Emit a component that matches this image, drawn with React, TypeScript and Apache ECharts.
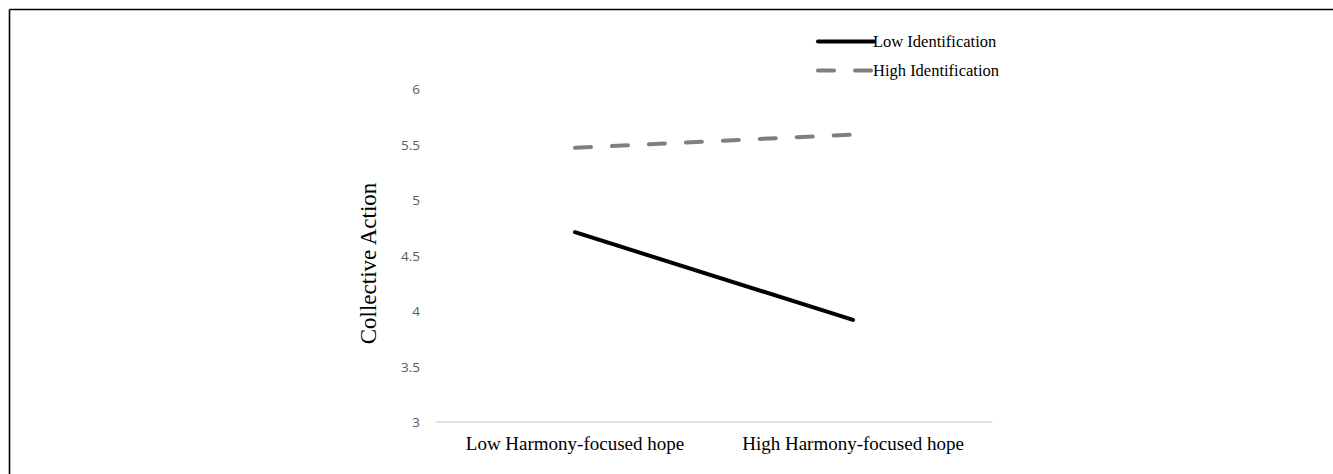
import React, { useEffect, useRef } from "react";
import * as echarts from "echarts";

const categories = ["Low Harmony-focused hope", "High Harmony-focused hope"];
const lowIdentification = [4.71, 3.92];
const highIdentification = [5.47, 5.59];
const seriesNames = ["Low Identification", "High Identification"];
const yAxisName = "Collective Action";

export default function App() {
  const ref = useRef<HTMLDivElement>(null);
  useEffect(() => {
    if (!ref.current) return;
    const chart = echarts.init(ref.current, undefined, { renderer: "svg" });
    chart.setOption({
      animation: false,
      backgroundColor: "#ffffff",
      grid: { left: 436, right: 341, top: 89, bottom: 52, containLabel: false },
      legend: {
        orient: "vertical",
        left: 811,
        top: 28,
        itemWidth: 56,
        itemHeight: 10,
        itemGap: 12,
        itemStyle: { opacity: 0 },
        lineStyle: { width: 4, cap: "round" },
        textStyle: { fontFamily: "Liberation Serif", fontSize: 16.5, lineHeight: 16, color: "#000", padding: [0, 0, 0, -6] },
        data: seriesNames,
      },
      xAxis: {
        type: "category",
        data: categories,
        boundaryGap: true,
        axisLine: { lineStyle: { color: "#d9d9d9", width: 1.5 } },
        axisTick: { show: false },
        axisLabel: { fontFamily: "Liberation Serif", fontSize: 19, color: "#000", margin: 12, interval: 0 },
      },
      yAxis: {
        type: "value",
        min: 3,
        max: 6,
        interval: 0.5,
        name: yAxisName,
        nameLocation: "middle",
        nameGap: 56,
        nameTextStyle: { fontFamily: "Liberation Serif", fontSize: 23, color: "#000", padding: [0, 16, 0, 0] },
        axisLine: { show: false },
        axisTick: { show: false },
        splitLine: { show: false },
        axisLabel: { fontFamily: "Open Sans", fontSize: 13.5, color: "#595959", margin: 16 },
      },
      series: [
        {
          name: seriesNames[0],
          type: "line",
          data: lowIdentification,
          symbol: "none",
          lineStyle: { color: "#000000", width: 4, cap: "round" },
          itemStyle: { color: "#000000" },
        },
        {
          name: seriesNames[1],
          type: "line",
          data: highIdentification,
          symbol: "none",
          lineStyle: { color: "#7f7f7f", width: 4, type: [16, 21], cap: "round" },
          itemStyle: { color: "#7f7f7f" },
        },
      ],
      graphic: [
        { type: "line", shape: { x1: 9.5, y1: 9.5, x2: 1333, y2: 9.5 }, style: { stroke: "#000", lineWidth: 1.6 } },
        { type: "line", shape: { x1: 9.5, y1: 9.5, x2: 9.5, y2: 474 }, style: { stroke: "#000", lineWidth: 1.6 } },
      ],
    });
    return () => chart.dispose();
  }, []);
  return <div ref={ref} style={{ position: "fixed", left: 0, top: 0, width: 1333, height: 474 }} />;
}
